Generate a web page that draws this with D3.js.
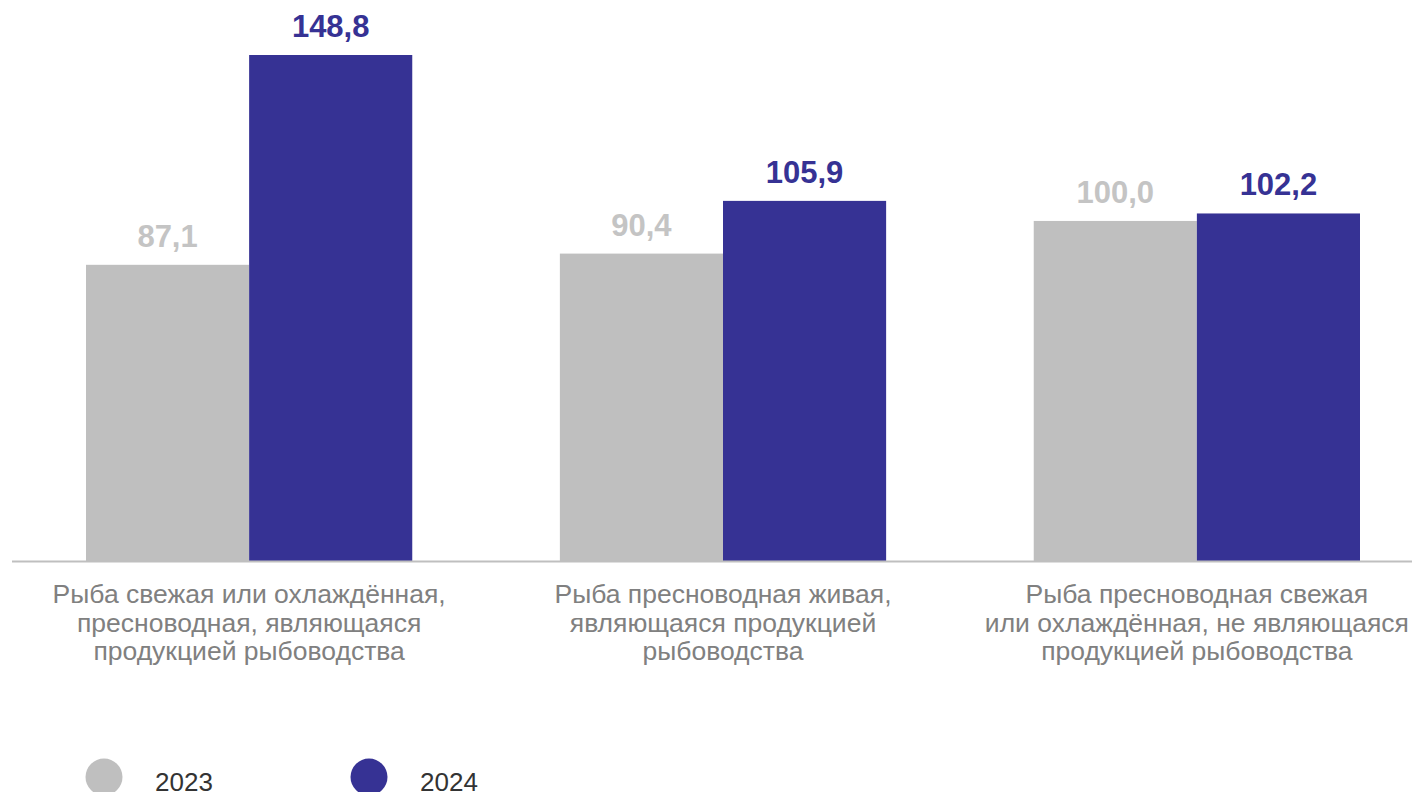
<!DOCTYPE html>
<html>
<head>
<meta charset="utf-8">
<script src="https://cdn.jsdelivr.net/npm/d3@7"></script>
<style>
  html, body { margin: 0; padding: 0; background: #ffffff; }
  svg { display: block; }
</style>
</head>
<body>
<div id="chart"></div>
<script>
// chart data
var categories = [
    ['Рыба свежая или охлаждённая,', 'пресноводная, являющаяся', 'продукцией рыбоводства'],
    ['Рыба пресноводная живая,', 'являющаяся продукцией', 'рыбоводства'],
    ['Рыба пресноводная свежая', 'или охлаждённая, не являющаяся', 'продукцией рыбоводства']
];
var years = ['2023', '2024'];
var values2023 = [87.1, 90.4, 100.0];
var values2024 = [148.8, 105.9, 102.2];

var width = 1412;
var height = 792;
var baseY = 561;

var colors = { '2023': '#bfbfbf', '2024': '#363294' };
var labelColors = { '2023': '#c4c4c4', '2024': '#363294' };

var svg = d3.select('#chart')
    .append('svg')
    .attr('width', width)
    .attr('height', height);

// group bands, step ~473.5, bar pair width ~326
var x0 = d3.scaleBand()
    .domain(d3.range(categories.length))
    .range([86, 1360])
    .paddingInner(0.3115)
    .paddingOuter(0);

var x1 = d3.scaleBand()
    .domain(years)
    .range([0, x0.bandwidth()]);

var y = d3.scaleLinear()
    .domain([0, 148.8])
    .range([baseY, 55]);

var fmt = function (v) { return d3.format('.1f')(v).replace('.', ','); };

var rows = categories.map(function (c, i) {
    return { i: i, vals: [
        { year: '2023', value: values2023[i] },
        { year: '2024', value: values2024[i] }
    ] };
});

var groups = svg.selectAll('.group')
    .data(rows)
    .enter().append('g')
    .attr('class', 'group')
    .attr('transform', function (d) { return 'translate(' + x0(d.i) + ',0)'; });

groups.selectAll('rect')
    .data(function (d) { return d.vals; })
    .enter().append('rect')
    .attr('x', function (d) { return x1(d.year); })
    .attr('y', function (d) { return y(d.value); })
    .attr('width', x1.bandwidth())
    .attr('height', function (d) { return baseY - y(d.value); })
    .attr('fill', function (d) { return colors[d.year]; });

groups.selectAll('.val')
    .data(function (d) { return d.vals; })
    .enter().append('text')
    .attr('class', 'val')
    .attr('x', function (d) { return x1(d.year) + x1.bandwidth() / 2; })
    .attr('y', function (d) { return y(d.value) - 18; })
    .attr('text-anchor', 'middle')
    .style('font-family', 'Liberation Sans, Arial, sans-serif')
    .style('font-weight', 'bold')
    .style('font-size', '31px')
    .attr('fill', function (d) { return labelColors[d.year]; })
    .text(function (d) { return fmt(d.value); });

// baseline
svg.append('line')
    .attr('x1', 12)
    .attr('x2', width)
    .attr('y1', baseY + 0.5)
    .attr('y2', baseY + 0.5)
    .attr('stroke', '#bfbfbf')
    .attr('stroke-width', 2);

// category labels
var catText = svg.selectAll('.cat')
    .data(categories)
    .enter().append('text')
    .attr('class', 'cat')
    .attr('text-anchor', 'middle')
    .style('font-family', 'Liberation Sans, Arial, sans-serif')
    .style('font-size', '26.5px')
    .attr('fill', '#808080');

catText.selectAll('tspan')
    .data(function (d, i) { return d.map(function (t) { return { t: t, i: i }; }); })
    .enter().append('tspan')
    .attr('x', function (d) { return x0(d.i) + x0.bandwidth() / 2; })
    .attr('y', function (d, j) { return 603 + j * 28.7; })
    .text(function (d) { return d.t; });

// legend
var legendX = [104, 369];
var legend = svg.selectAll('.legend')
    .data(years)
    .enter().append('g')
    .attr('class', 'legend')
    .attr('transform', function (d, i) { return 'translate(' + legendX[i] + ',777)'; });

legend.append('circle')
    .attr('r', 18.5)
    .attr('fill', function (d) { return colors[d]; });

legend.append('text')
    .attr('x', 51)
    .attr('y', 14)
    .style('font-family', 'Liberation Sans, Arial, sans-serif')
    .style('font-size', '26px')
    .attr('fill', '#333333')
    .text(function (d) { return d; });
</script>
</body>
</html>
